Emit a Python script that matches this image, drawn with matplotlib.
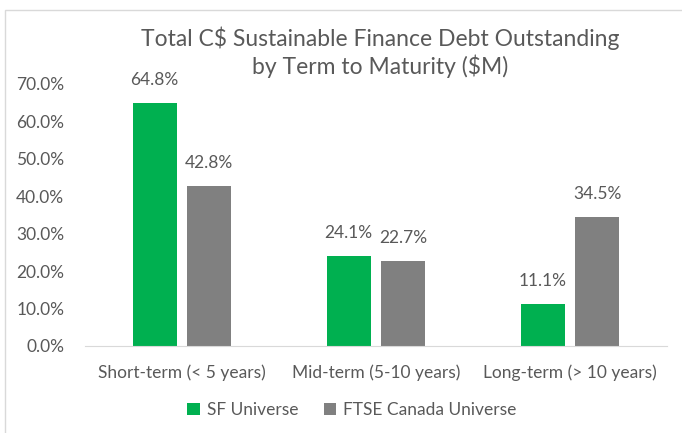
import numpy as np
import matplotlib
matplotlib.use("Agg")
import matplotlib.pyplot as plt
from matplotlib.patches import Rectangle

categories = ["Short-term (< 5 years)", "Mid-term (5-10 years)", "Long-term (> 10 years)"]
sf_universe = [64.8, 24.1, 11.1]
ftse_universe = [42.8, 22.7, 34.5]
yticks = [0, 10, 20, 30, 40, 50, 60, 70]
title_lines = ["Total C$ Sustainable Finance Debt Outstanding", "by Term to Maturity ($M)"]

plt.rcParams['font.family'] = ['Lato', 'DejaVu Sans']
txt = "#595959"

fig = plt.figure(figsize=(6.82, 4.33), dpi=100)
fig.patches.append(Rectangle((5 / 682, -0.01), 1.0, 1 - 10 / 433 + 0.01,
                             transform=fig.transFigure, fill=False,
                             edgecolor="#d9d9d9", linewidth=1))
ax = fig.add_axes([85 / 682, 87 / 433, 582 / 682, 262 / 433])

x = np.arange(len(categories))
w = 0.226
off = 0.141
b1 = ax.bar(x - off, sf_universe, w, color="#00B050", label="SF Universe")
b2 = ax.bar(x + off, ftse_universe, w, color="#808080", label="FTSE Canada Universe")

for bars, vals in ((b1, sf_universe), (b2, ftse_universe)):
    for r, v in zip(bars, vals):
        ax.annotate(f"{v:.1f}%", (r.get_x() + r.get_width() / 2, v),
                    xytext=(0, 11), textcoords="offset points",
                    ha="center", va="bottom", fontsize=12.5, color=txt)

ax.set_xlim(-0.5, 2.5)
ax.set_ylim(0, 70)
ax.set_yticks(yticks)
ax.set_yticklabels([f"{t:.1f}%" for t in yticks])
ax.set_xticks(x)
ax.set_xticklabels(categories)
ax.tick_params(axis="both", length=0, labelsize=12.5, colors=txt)
ax.tick_params(axis="y", pad=15)
ax.tick_params(axis="x", pad=13)
for s in ("top", "right", "left"):
    ax.spines[s].set_visible(False)
ax.spines["bottom"].set_color("#d9d9d9")

# title, one text per line
for i, line in enumerate(title_lines):
    fig.text(380 / 682, 1 - (38 + 28 * i) / 433, line,
             ha="center", va="center", fontsize=16.5, color=txt)

fig.legend(loc="center", bbox_to_anchor=(352 / 682, 1 - 410 / 433), ncol=2,
           frameon=False, fontsize=12.5, labelcolor=txt, handlelength=0.7,
           handleheight=0.7, handletextpad=0.4, columnspacing=1.5)

fig.savefig("out.png", dpi=100)
